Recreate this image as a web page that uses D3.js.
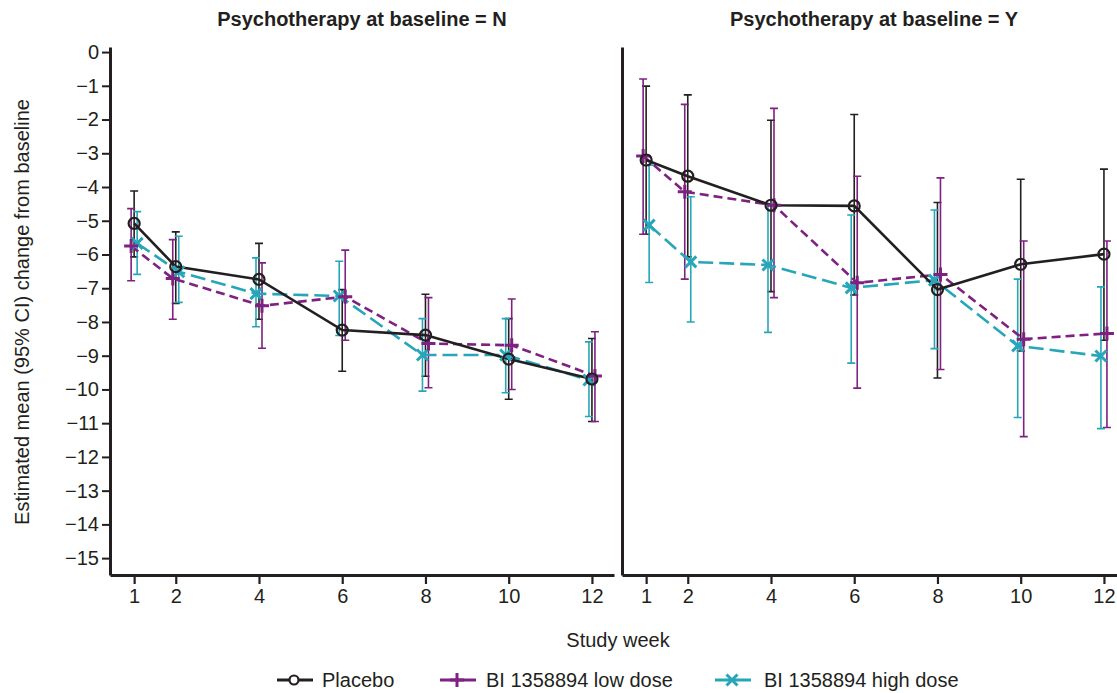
<!DOCTYPE html>
<html>
<head>
<meta charset="utf-8">
<script src="https://cdn.jsdelivr.net/npm/d3@7"></script>
<style>
  body{margin:0;background:#fff}
  svg{display:block;font-family:"Liberation Sans",Arial,sans-serif}
</style>
</head>
<body>
<svg id="chart" width="1117" height="693"></svg>
<script>
  // data
  var weeks = [1, 2, 4, 6, 8, 10, 12];
  var yTicks = [0,-1,-2,-3,-4,-5,-6,-7,-8,-9,-10,-11,-12,-13,-14,-15];

  // psychotherapy = N
  var placeboN    = [-5.08, -6.36, -6.74, -8.24, -8.39, -9.10, -9.69],
      placeboN_hi = [-4.12, -5.33, -5.67, -7.04, -7.18, -7.90, -8.49],
      placeboN_lo = [-6.07, -7.45, -7.92, -9.46, -9.61, -10.29, -10.95];
  var lowN    = [-5.75, -6.71, -7.52, -7.25, -8.64, -8.69, -9.60],
      lowN_hi = [-4.64, -5.56, -6.25, -5.87, -7.28, -7.32, -8.29],
      lowN_lo = [-6.78, -7.92, -8.78, -8.54, -9.95, -10.00, -10.95];
  var highN    = [-5.67, -6.51, -7.16, -7.23, -8.98, -8.98, -9.72],
      highN_hi = [-4.73, -5.46, -6.10, -6.20, -7.90, -7.90, -8.59],
      highN_lo = [-6.59, -7.42, -8.14, -8.40, -10.05, -10.10, -10.80];

  // psychotherapy = Y
  var placeboY    = [-3.20, -3.68, -4.54, -4.56, -7.04, -6.29, -5.99],
      placeboY_hi = [-1.01, -1.27, -2.02, -1.85, -4.46, -3.77, -3.47],
      placeboY_lo = [-5.40, -6.07, -7.10, -7.20, -9.66, -8.86, -8.54];
  var lowY    = [-3.08, -4.14, -4.54, -6.84, -6.59, -8.51, -8.34],
      lowY_hi = [-0.80, -1.55, -1.67, -3.68, -3.73, -5.60, -5.60],
      lowY_lo = [-5.40, -6.73, -7.28, -9.96, -9.41, -11.40, -11.13];
  var highY    = [-5.13, -6.22, -6.31, -6.99, -6.76, -8.71, -9.01],
      highY_hi = [-3.35, -4.29, -4.49, -4.83, -4.68, -6.73, -6.96],
      highY_lo = [-6.83, -8.00, -8.31, -9.22, -8.79, -10.83, -11.16];

  var seriesNames = ['Placebo', 'BI 1358894 low dose', 'BI 1358894 high dose'];

  // styles
  var ink = '#231f20',
      font = '"Liberation Sans",Arial,sans-serif';
  var styles = [
    {color: ink,       dash: null,    marker: 'circle', dodge: 0},
    {color: '#7e2181', dash: '9,5',   marker: 'plus',   dodge: 3},
    {color: '#27a5b9', dash: '15,6',  marker: 'cross',  dodge: -3}
  ];

  var panels = [
    {title: 'Psychotherapy at baseline = N', left: 110, series: [
      {mean: placeboN, hi: placeboN_hi, lo: placeboN_lo},
      {mean: lowN, hi: lowN_hi, lo: lowN_lo},
      {mean: highN, hi: highN_hi, lo: highN_lo}]},
    {title: 'Psychotherapy at baseline = Y', left: 622, series: [
      {mean: placeboY, hi: placeboY_hi, lo: placeboY_lo},
      {mean: lowY, hi: lowY_hi, lo: lowY_lo},
      {mean: highY, hi: highY_hi, lo: highY_lo}]}
  ];

  var svg = d3.select('#chart');
  var plotTop = 47, plotBottom = 575, panelW = 504;

  var y = d3.scaleLinear().domain([-15.5, 0.15]).range([plotBottom, plotTop]);

  // real minus sign on the ticks
  function fmt(d){ return d < 0 ? '\u2212' + Math.abs(d) : '' + d }

  // early weeks have the two doses swapped side to side
  function dodge(si, w){
    var d = styles[si].dodge;
    return w <= 2 ? -d : d;
  }

  function drawMarker(g, kind, cx, cy, color, small){
    if(kind === 'circle'){
      g.append('circle').attr('cx', cx).attr('cy', cy).attr('r', small ? 4.5 : 5.5)
        .attr('fill', small ? '#fff' : 'none').attr('stroke', color).attr('stroke-width', 2.2);
    } else if(kind === 'plus'){
      g.append('path')
        .attr('d', 'M' + (cx-7) + ',' + cy + 'h14M' + cx + ',' + (cy-7) + 'v14')
        .attr('stroke', color).attr('stroke-width', 3).attr('fill', 'none');
    } else {
      var s = 5.5;
      g.append('path')
        .attr('d', 'M' + (cx-s) + ',' + (cy-s) + 'L' + (cx+s) + ',' + (cy+s) +
                   'M' + (cx-s) + ',' + (cy+s) + 'L' + (cx+s) + ',' + (cy-s))
        .attr('stroke', color).attr('stroke-width', 3).attr('fill', 'none');
    }
  }

  panels.forEach(function(p, pi){
    var x = d3.scaleLinear().domain([0.42, 12.53]).range([p.left, p.left + panelW]);
    var g = svg.append('g');

    // title
    g.append('text')
      .attr('x', p.left + panelW/2).attr('y', 26)
      .attr('text-anchor', 'middle')
      .attr('font-size', 20).attr('font-weight', 'bold').attr('fill', ink)
      .text(p.title);

    // x axis
    var xa = g.append('g').attr('transform', 'translate(0,' + plotBottom + ')')
      .call(d3.axisBottom(x).tickValues(weeks).tickSizeInner(9).tickSizeOuter(0).tickPadding(5));
    xa.select('.domain').attr('stroke', ink).attr('stroke-width', 3);
    xa.selectAll('.tick line').attr('stroke', ink).attr('stroke-width', 2.2).attr('y1', 2);
    xa.selectAll('.tick text').attr('font-size', 20).attr('fill', ink).attr('font-family', font);

    // y axis (ticks only on the left panel)
    var yAxis = d3.axisLeft(y).tickValues(pi === 0 ? yTicks : []).tickFormat(fmt)
      .tickSizeInner(8).tickSizeOuter(0).tickPadding(3);
    var ya = g.append('g').attr('transform', 'translate(' + p.left + ',0)').call(yAxis);
    ya.select('.domain').attr('stroke', ink).attr('stroke-width', 3);
    ya.selectAll('.tick line').attr('stroke', ink).attr('stroke-width', 2);
    ya.selectAll('.tick text').attr('font-size', 20).attr('fill', ink).attr('font-family', font);

    var plot = g.append('g');

    // error bars
    p.series.forEach(function(s, si){
      var st = styles[si];
      weeks.forEach(function(w, i){
        var cx = x(w) + dodge(si, w);
        plot.append('path')
          .attr('d', 'M' + cx + ',' + y(s.hi[i]) + 'V' + y(s.lo[i]) +
                     'M' + (cx-4) + ',' + y(s.hi[i]) + 'h8' +
                     'M' + (cx-4) + ',' + y(s.lo[i]) + 'h8')
          .attr('stroke', st.color).attr('stroke-width', 1.6).attr('fill', 'none');
      });
    });

    // lines
    var line = d3.line()
      .x(function(d){ return x(d.w) + d.off })
      .y(function(d){ return y(d.v) });
    [2, 1, 0].forEach(function(si){
      var s = p.series[si], st = styles[si];
      var pts = weeks.map(function(w, i){ return {w: w, v: s.mean[i], off: dodge(si, w)} });
      plot.append('path').datum(pts)
        .attr('d', line)
        .attr('fill', 'none').attr('stroke', st.color).attr('stroke-width', 2.6)
        .attr('stroke-dasharray', st.dash);
    });

    // markers
    [2, 1, 0].forEach(function(si){
      var s = p.series[si], st = styles[si];
      weeks.forEach(function(w, i){
        drawMarker(plot, st.marker, x(w) + dodge(si, w), y(s.mean[i]), st.color);
      });
    });
  });

  // axis titles
  svg.append('text')
    .attr('transform', 'translate(29,312) rotate(-90)')
    .attr('text-anchor', 'middle').attr('font-size', 20).attr('fill', ink)
    .text('Estimated mean (95% CI) change from baseline');

  svg.append('text')
    .attr('x', 618).attr('y', 647)
    .attr('text-anchor', 'middle').attr('font-size', 20).attr('fill', ink)
    .text('Study week');

  // legend
  var legendX = [277, 440, 715],
      legendTextX = [322, 486, 764],
      legendY = 680;
  seriesNames.forEach(function(name, si){
    var st = styles[si];
    var lg = svg.append('g');
    lg.append('line')
      .attr('x1', legendX[si]).attr('x2', legendX[si] + 36)
      .attr('y1', legendY).attr('y2', legendY)
      .attr('stroke', st.color).attr('stroke-width', 3);
    drawMarker(lg, st.marker, legendX[si] + 17, legendY, st.color, true);
    lg.append('text')
      .attr('x', legendTextX[si]).attr('y', legendY + 7)
      .attr('font-size', 20).attr('fill', ink)
      .text(name);
  });
</script>
</body>
</html>
